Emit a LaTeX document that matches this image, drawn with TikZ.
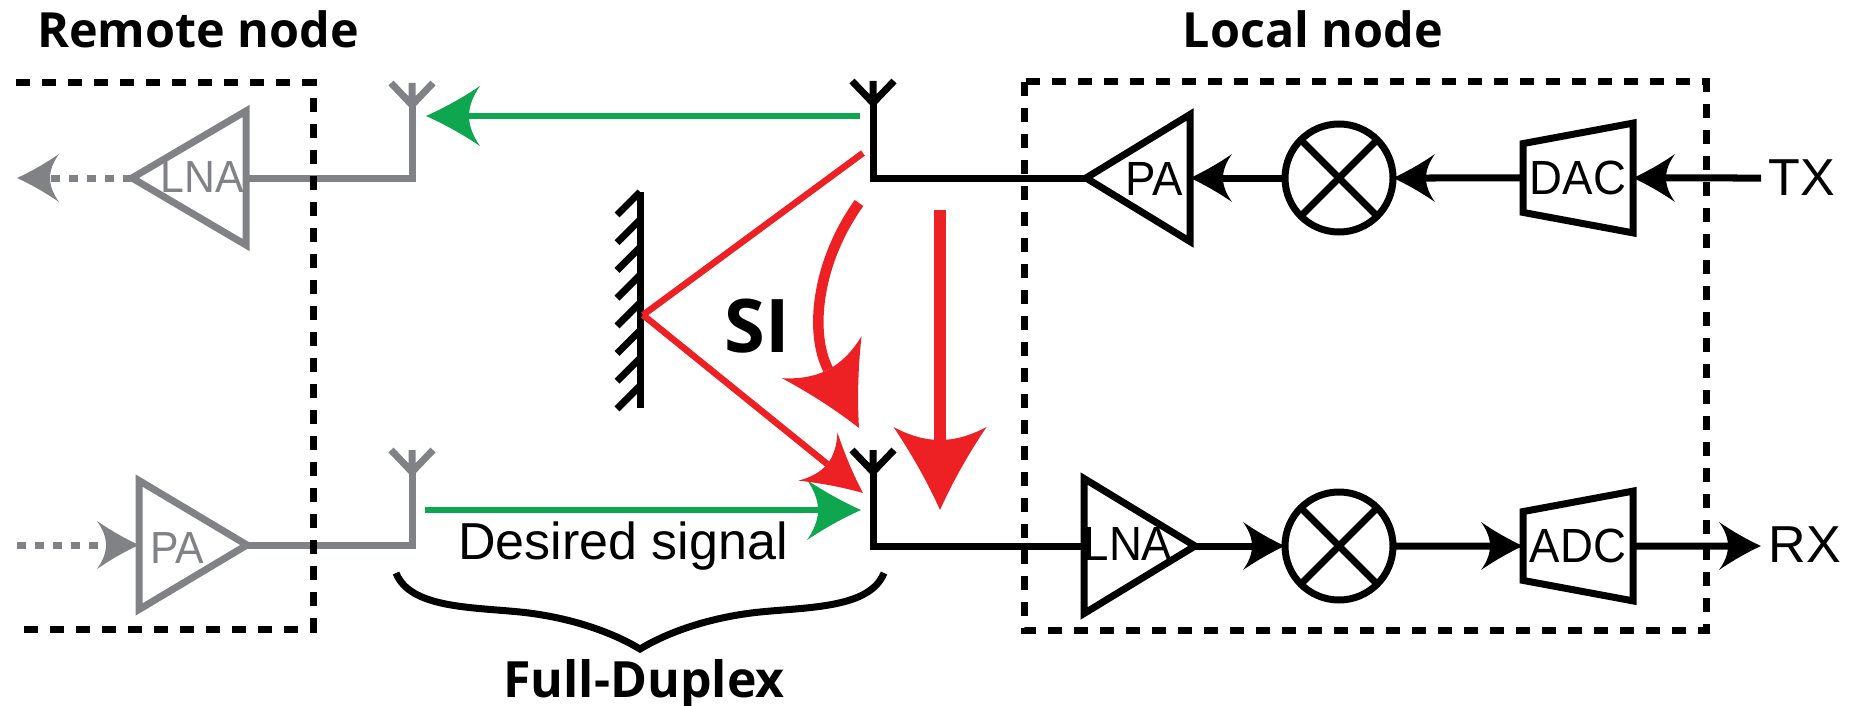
\documentclass[tikz,border=0pt]{standalone}
\usepackage{fontspec}
\setmainfont{Liberation Sans}
\newfontfamily\headfont{Open Sans}
\newfontfamily\blockfont{Liberation Sans}[FakeStretch=0.95]
\usetikzlibrary{arrows.meta,shapes.geometric}
\definecolor{remotegray}{HTML}{808285}
\definecolor{sigred}{HTML}{ED2024}
\definecolor{siggreen}{HTML}{0FA650}
\pgfdeclarearrow{
  name=Swept,
  defaults={length=42pt,width=48pt,inset=9pt},
  setup code={
    \pgfarrowssettipend{0pt}
    \dimen0=-\pgfarrowlength
    \pgfarrowssetbackend{\dimen0}
    \advance\dimen0 by \pgfarrowinset
    \pgfarrowssetlineend{\dimen0}
    \pgfarrowssavethe\pgfarrowlength
    \pgfarrowssavethe\pgfarrowwidth
    \pgfarrowssavethe\pgfarrowinset
  },
  drawing code={
    \pgfpathmoveto{\pgfqpoint{0pt}{0pt}}
    \pgfpathquadraticcurveto{\pgfpoint{-.5\pgfarrowlength}{.2\pgfarrowwidth}}{\pgfpoint{-\pgfarrowlength}{.5\pgfarrowwidth}}
    \pgfpathquadraticcurveto{\pgfpoint{\pgfarrowinset-\pgfarrowlength}{.24\pgfarrowwidth}}{\pgfpoint{\pgfarrowinset-\pgfarrowlength}{0pt}}
    \pgfpathquadraticcurveto{\pgfpoint{\pgfarrowinset-\pgfarrowlength}{-.24\pgfarrowwidth}}{\pgfpoint{-\pgfarrowlength}{-.5\pgfarrowwidth}}
    \pgfpathquadraticcurveto{\pgfpoint{-.5\pgfarrowlength}{-.2\pgfarrowwidth}}{\pgfqpoint{0pt}{0pt}}
    \pgfpathclose
    \pgfusepathqfill
  },
  parameters={\the\pgfarrowlength,\the\pgfarrowwidth,\the\pgfarrowinset},
}
\tikzstyle{amp}=[isosceles triangle,isosceles triangle stretches,draw,line width=7pt,inner sep=0pt,outer sep=0pt,anchor=apex]
\tikzstyle{mixer}=[circle,draw,line width=7pt,minimum size=108pt,inner sep=0pt,outer sep=0pt]
\tikzstyle{converter}=[trapezium,trapezium stretches=true,trapezium angle=84,shape border rotate=90,draw,line width=7pt,minimum width=110pt,minimum height=110pt,inner sep=0pt,outer sep=0pt,font=\blockfont\fontsize{48}{48}\selectfont]
\tikzstyle{boxline}=[line width=7pt,dash pattern=on 14pt off 12pt]
\tikzstyle{wire}=[line width=7pt]
\tikzstyle{signal}=[line width=7pt,-{Swept}]
\tikzstyle{greensig}=[siggreen,line width=6.5pt,-{Swept[length=54pt,width=60pt,inset=11pt]}]
\tikzstyle{dotsig}=[remotegray,line width=7pt,dash pattern=on 9pt off 9pt,-{Swept}]
\tikzstyle{title}=[inner sep=0pt,anchor=base,font=\headfont\bfseries\fontsize{48.5}{50}\selectfont]
\tikzstyle{blocktext}=[inner sep=0pt,anchor=base,font=\blockfont\fontsize{48}{48}\selectfont]
\begin{document}
\begin{tikzpicture}[x=1pt,y=-1pt]
    \useasboundingbox (0,0) rectangle (1854,706);

    % titles and labels
    \foreach \pos/\name/\label in {{(198,48)/remotetitle/Remote node}, {(1313,48)/localtitle/Local node}}
        \node[title] (\name) at \pos {\label};
    \node[title,font=\headfont\bfseries\fontsize{50}{50}\selectfont] (fdtitle) at (644,697) {Full-Duplex};
    \node[title,font=\headfont\bfseries\fontsize{74}{76}\selectfont] (si) at (757,352) {SI};

    \foreach \pos/\name/\label in {{(1802,195)/txlabel/TX}, {(1805,562)/rxlabel/RX}}
        \node[blocktext,font=\fontsize{52}{52}\selectfont] (\name) at \pos {\label};
    \node[blocktext,font=\fontsize{52}{52}\selectfont] (desired) at (623,559) {Desired signal};

    % antennas
    \foreach \pos/\name/\col in {{(412,105)/antrt/remotegray}, {(412,472)/antrb/remotegray}, {(873,103)/antlt/black}, {(873,472)/antlb/black}}{
        \path \pos coordinate (\name);
        \draw[wire,\col] (\name) -- ++(0,-22) (\name) -- ++(-21,-22) (\name) -- ++(21,-22);
    }

    % remote node
    \node[amp,remotegray,shape border rotate=180,minimum width=134pt,minimum height=114pt] (lnar) at (132,178) {};
    \node[amp,remotegray,minimum width=129pt,minimum height=108pt,shape border rotate=0] (par) at (247,545) {};
    \path (par.apex) ++(-108,0) coordinate (parbase);
    \node[blocktext,remotegray,font=\blockfont\fontsize{45}{45}\selectfont] (lnartext) at (202,192) {LNA};
    \node[blocktext,remotegray,font=\blockfont\fontsize{45}{45}\selectfont] (partext) at (177,563) {PA};
    \draw[wire,remotegray] (antrt) |- (lnar.lower side);
    \draw[wire,remotegray] (antrb) |- (par.apex);
    \coordinate (dotout) at (17,178);
    \coordinate (dotin) at (17,545);
    \draw[dotsig] (lnar.apex) -- (dotout);
    \draw[dotsig] (dotin) -- (parbase);
    \draw[boxline] (16,83) -| (313,629) -- (16,629);

    % local node
    \node[amp,shape border rotate=180,minimum width=127pt,minimum height=104pt] (pal) at (1086,178) {};
    \node[amp,shape border rotate=0,minimum width=135pt,minimum height=111pt] (lnal) at (1195,546) {};
    \path (lnal.apex) ++(-111,0) coordinate (lnalbase);
    \node[mixer] (mixt) at (1339,178) {};
    \node[mixer] (mixr) at (1339,546) {};
    \foreach \name in {mixt,mixr}{
        \draw[wire] (\name.45) -- (\name.225);
        \draw[wire] (\name.135) -- (\name.315);
    }
    \node[converter] (dac) at (1578,178) {DAC};
    \node[converter] (adc) at (1578,546) {ADC};
    \foreach \pos/\name/\label in {{(1154,195)/paltext/PA}, {(1128,560)/lnaltext/LNA}}
        \node[blocktext] (\name) at \pos {\label};

    \coordinate (txin) at (1761,178);
    \coordinate (rxout) at (1761,546);
    \draw[signal] (txin) -- (dac.east);
    \draw[signal] (dac.west) -- (mixt.east);
    \draw[signal] (mixt.west) -- (pal.lower side);
    \draw[wire] (antlt) |- (pal.apex);
    \draw[wire] (antlb) |- (lnalbase);
    \draw[signal] (lnal.apex) -- (mixr.west);
    \draw[signal] (mixr.east) -- (adc.west);
    \draw[signal] (adc.east) -- (rxout);
    \draw[boxline] (1024,82) rectangle (1706,630);

    % desired signals
    \coordinate (topstart) at (860,116);
    \coordinate (topend) at (426,116);
    \coordinate (botstart) at (425,510);
    \coordinate (botend) at (861,510);
    \draw[greensig] (topstart) -- (topend);
    \draw[greensig] (botstart) -- (botend);

    % mirror
    \coordinate (mirrortop) at (640,192);
    \coordinate (mirrorbot) at (640,408);
    \draw[wire] (mirrortop) -- (mirrorbot);
    \foreach \i in {0,...,7}
        \draw[wire] (640,192+27.7*\i) -- ++(-23,23);

    % self interference
    \coordinate (refltx) at (863,153);
    \coordinate (reflpt) at (643,315);
    \coordinate (reflrx) at (863,493);
    \coordinate (curvetx) at (859,203);
    \coordinate (curverx) at (859,428);
    \coordinate (directtx) at (940,210);
    \coordinate (directrx) at (940,510);
    \draw[sigred,line width=6.5pt] (refltx) -- (reflpt);
    \draw[sigred,line width=6.5pt,-{Swept[length=58pt,width=62pt,inset=12pt]}] (reflpt) -- (reflrx);
    \draw[sigred,line width=10.5pt,-{Swept[length=80pt,width=90pt,inset=14pt]}] (curvetx) .. controls (815,265) and (810,335) .. (curverx);
    \draw[sigred,line width=12pt,-{Swept[length=83pt,width=93pt,inset=13pt]}] (directtx) -- (directrx);

    % brace
    \coordinate (braceleft) at (396,573);
    \coordinate (bracetip) at (640,649);
    \coordinate (braceright) at (884,573);
    \draw[wire,line join=miter] (braceleft) .. controls (410,608) and (470,607) .. (520,612) .. controls (560,616) and (605,628) .. (bracetip) .. controls (675,628) and (720,616) .. (760,612) .. controls (810,607) and (870,608) .. (braceright);
\end{tikzpicture}
\end{document}
